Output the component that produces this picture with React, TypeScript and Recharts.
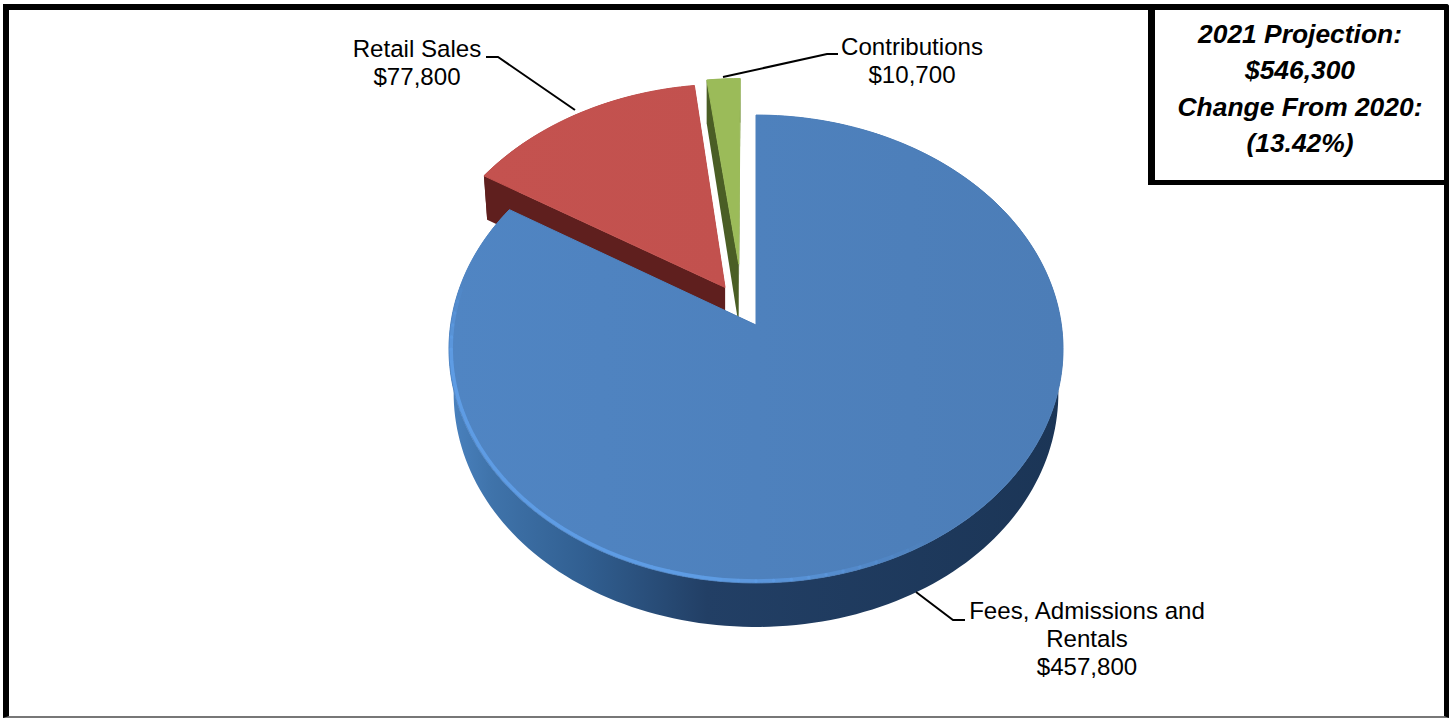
import React from 'react';
import { PieChart, Pie } from 'recharts';

// Drawn back to front: the large slice sits over the walls of the pulled-out ones.
const categories = ['Contributions', 'Retail Sales', 'Fees, Admissions and Rentals'];
const amounts = [10700, 77800, 457800];
const boxLines = ['2021 Projection:', '$546,300', 'Change From 2020:', '(13.42%)'];

const pieData = categories.map((name, i) => ({ name, value: amounts[i] }));

const WIDTH = 1451;
const HEIGHT = 719;
const FONT = '"Liberation Sans", Arial, sans-serif';

// Tilt of the disc
const SQUASH = 0.758;
const PERSPECTIVE = 0.1026;
const DEPTH = 44;
const BOTTOM_SHRINK = 0.015;

// Pull-out of each slice, in disc units; the third value lifts the tip of the top face
const explode: Record<string, [number, number, number]> = {
  Contributions: [-0.058, 0.195, 0.075],
  'Retail Sales': [-0.103, 0.165, 0],
};

const sliceStyle: Record<string, { top: string; wall: string; edge: string }> = {
  Contributions: { top: '#9bbb59', wall: '#4a5e25', edge: '#4a5e25' },
  'Retail Sales': { top: 'url(#redTop)', wall: '#5f1f1e', edge: '#5f1f1e' },
  'Fees, Admissions and Rentals': { top: 'url(#blueTop)', wall: 'url(#blueWall)', edge: '#1f3a5c' },
};

const labelStyle: Record<string, { x: number; y: number; lines: string[]; leader: string }> = {
  Contributions: { x: 912, y: 55, lines: ['Contributions'], leader: '723,77 827,54 838,54' },
  'Retail Sales': { x: 417, y: 57, lines: ['Retail Sales'], leader: '486,57 498,57 575,110' },
  'Fees, Admissions and Rentals': {
    x: 1087,
    y: 619,
    lines: ['Fees, Admissions and', 'Rentals'],
    leader: '916,592 953,620 965,620',
  },
};

const toPath = (pts: number[][]) =>
  'M' + pts.map((p) => `${p[0].toFixed(2)},${p[1].toFixed(2)}`).join('L') + 'Z';

const TiltedSlice = (props: any) => {
  const { cx, cy, outerRadius, startAngle, endAngle, name } = props;
  const style = sliceStyle[name];
  const [dx, dy, tipLift] = explode[name] ?? [0, 0, 0];

  const project = (u: number, v: number) => {
    const w = 1 + PERSPECTIVE * (v + dy);
    return [cx + (outerRadius * (u + dx)) / w, cy - (outerRadius * SQUASH * (v + dy)) / w];
  };
  const rimAt = (deg: number, r = 1) => {
    const rad = (deg * Math.PI) / 180;
    return project(r * Math.cos(rad), r * Math.sin(rad));
  };
  // bottom rim of the wall, pulled in a little towards the sides
  const lower = (p: number[]) => {
    const off = (p[0] - cx) / outerRadius;
    return [p[0] - off * off * off * outerRadius * BOTTOM_SHRINK, p[1] + DEPTH];
  };

  const rim: number[][] = [];
  const steps = Math.ceil(Math.abs(endAngle - startAngle) / 1.5);
  for (let i = 0; i <= steps; i++) {
    rim.push(rimAt(startAngle + ((endAngle - startAngle) * i) / steps));
  }
  const apex = project(0, 0);
  const tip = project(0, tipLift);
  const first = rim[0];
  const last = rim[rim.length - 1];

  // light edge along the lower left of the big slice
  const bevel: React.ReactNode[] = [];
  if (!explode[name]) {
    for (let deg = 168; deg < 300; deg += 3) {
      const a = rimAt(deg, 0.993);
      const b = rimAt(deg + 3, 0.993);
      const t = (deg - 168) / 132;
      bevel.push(
        <line
          key={deg}
          x1={a[0]}
          y1={a[1]}
          x2={b[0]}
          y2={b[1]}
          stroke="#5e9ce4"
          strokeWidth={3.5}
          strokeLinecap="round"
          strokeOpacity={Math.min(1, t / 0.15, (1 - t) / 0.3)}
        />
      );
    }
  }

  return (
    <g>
      <path d={toPath([...rim, ...rim.map(lower).reverse()])} fill={style.wall} />
      <path d={toPath([tip, first, lower(first), lower(apex)])} fill={style.edge} />
      <path d={toPath([tip, last, lower(last), lower(apex)])} fill={style.edge} />
      <path d={toPath([tip, ...rim])} fill={style.top} stroke={style.top} strokeWidth={1} />
      {bevel}
    </g>
  );
};

const SliceLabel = (props: any) => {
  const { name, value } = props;
  const spec = labelStyle[name];
  const lines = [...spec.lines, '$' + Number(value).toLocaleString('en-US')];
  return (
    <g>
      <polyline points={spec.leader} fill="none" stroke="#000" strokeWidth={2} />
      {lines.map((line, i) => (
        <text
          key={line}
          x={spec.x}
          y={spec.y + i * 28}
          textAnchor="middle"
          fontFamily={FONT}
          fontSize={24.1}
          fill="#000"
        >
          {line}
        </text>
      ))}
    </g>
  );
};

export default function App() {
  return (
    <div style={{ position: 'absolute', left: 0, top: 0, width: WIDTH, height: HEIGHT, background: '#fff', overflow: 'hidden' }}>
      <PieChart width={WIDTH} height={HEIGHT} margin={{ top: 0, right: 0, bottom: 0, left: 0 }}>
        <defs>
          <linearGradient id="blueTop" x1="0" y1="0" x2="1" y2="0">
            <stop offset="0" stopColor="#5085c3" />
            <stop offset="1" stopColor="#4c7db7" />
          </linearGradient>
          <linearGradient id="redTop" x1="0" y1="0" x2="1" y2="0">
            <stop offset="0" stopColor="#c4524f" />
            <stop offset="1" stopColor="#c2514e" />
          </linearGradient>
          <linearGradient id="blueWall" x1="0" y1="0" x2="1" y2="0">
            <stop offset="0" stopColor="#4a82bf" />
            <stop offset="0.07" stopColor="#3f73aa" />
            <stop offset="0.22" stopColor="#315f91" />
            <stop offset="0.42" stopColor="#223f65" />
            <stop offset="1" stopColor="#1b3556" />
          </linearGradient>
        </defs>
        <Pie
          data={pieData}
          dataKey="value"
          nameKey="name"
          cx={756}
          cy={325}
          outerRadius={305.4}
          startAngle={90}
          endAngle={450}
          stroke="none"
          shape={TiltedSlice}
          label={SliceLabel}
          labelLine={false}
          isAnimationActive={false}
        />
      </PieChart>

      {/* frame around the chart */}
      <div style={{ position: 'absolute', left: 3, top: 4, width: 1446, height: 714, boxSizing: 'border-box', borderTop: '6px solid #000', borderLeft: '6px solid #000', borderRight: '5px solid #000', borderBottom: '2px solid #777', borderTopRightRadius: 3 }} />

      <div
        style={{
          position: 'absolute',
          left: 1148,
          top: 4,
          width: 301,
          height: 181,
          boxSizing: 'border-box',
          borderLeft: '7px solid #000',
          borderBottom: '5px solid #000',
          fontFamily: FONT,
          fontStyle: 'italic',
          fontWeight: 700,
          fontSize: 26.4,
          lineHeight: '36.3px',
          textAlign: 'center',
          paddingTop: 12,
          paddingRight: 4,
          color: '#000',
        }}
      >
        {boxLines.map((line) => (
          <div key={line}>{line}</div>
        ))}
      </div>
    </div>
  );
}
